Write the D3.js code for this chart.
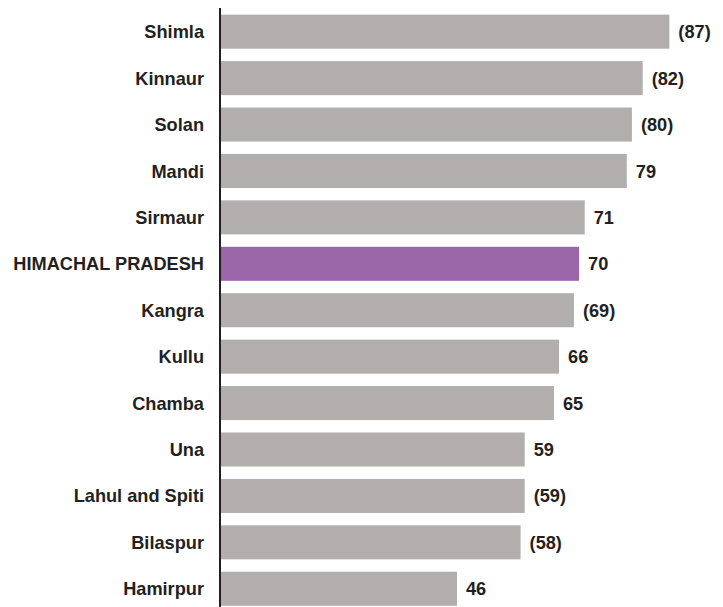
<!DOCTYPE html>
<html>
<head>
<meta charset="utf-8">
<script src="https://cdn.jsdelivr.net/npm/d3@7"></script>
<style>
  body { margin: 0; background: #fff; }
  svg text { font-family: "Liberation Sans", Arial, sans-serif; font-weight: bold; fill: #231f20; }
</style>
</head>
<body>
<svg width="723" height="607"></svg>
<script>
/* district values, top to bottom */
var districts = ["Shimla", "Kinnaur", "Solan", "Mandi", "Sirmaur", "HIMACHAL PRADESH",
    "Kangra", "Kullu", "Chamba", "Una", "Lahul and Spiti", "Bilaspur", "Hamirpur"];
var values = [87.4, 82.2, 80.1, 79.1, 70.9, 69.8, 68.8, 65.9, 64.9, 59.2, 59.2, 58.4, 46.0];
var valueLabels = ["(87)", "(82)", "(80)", "79", "71", "70", "(69)", "66", "65", "59", "(59)", "(58)", "46"];
var highlight = "HIMACHAL PRADESH";

var svg = d3.select("svg");

var data = districts.map(function (d, i) {
    return { name: d, value: values[i], label: valueLabels[i] };
});

var x = d3.scaleLinear().domain([0, 100]).range([221, 734]);
var y = d3.scaleBand()
    .domain(districts)
    .range([8.5, 8.5 + 46.42 * 13])
    .paddingInner(0.267)
    .paddingOuter(0.133);

svg.append("g")
    .selectAll("rect")
    .data(data)
    .enter().append("rect")
    .attr("x", x(0))
    .attr("y", function (d) { return y(d.name); })
    .attr("width", function (d) { return x(d.value) - x(0); })
    .attr("height", y.bandwidth())
    .attr("fill", function (d) { return d.name === highlight ? "#9a66a8" : "#b2aead"; });

// category labels
svg.append("g")
    .selectAll("text")
    .data(data)
    .enter().append("text")
    .attr("x", 204)
    .attr("y", function (d) { return y(d.name) + y.bandwidth() / 2; })
    .attr("dy", "0.36em")
    .attr("text-anchor", "end")
    .style("font-size", "18.2px")
    .text(function (d) { return d.name; });

// value labels
svg.append("g")
    .selectAll("text")
    .data(data)
    .enter().append("text")
    .attr("x", function (d) { return x(d.value) + 9; })
    .attr("y", function (d) { return y(d.name) + y.bandwidth() / 2; })
    .attr("dy", "0.36em")
    .style("font-size", "18.2px")
    .text(function (d) { return d.label; });

// axis line
svg.append("line")
    .attr("x1", 220).attr("x2", 220)
    .attr("y1", 8).attr("y2", 607)
    .attr("stroke", "#231f20")
    .attr("stroke-width", 2);
</script>
</body>
</html>
